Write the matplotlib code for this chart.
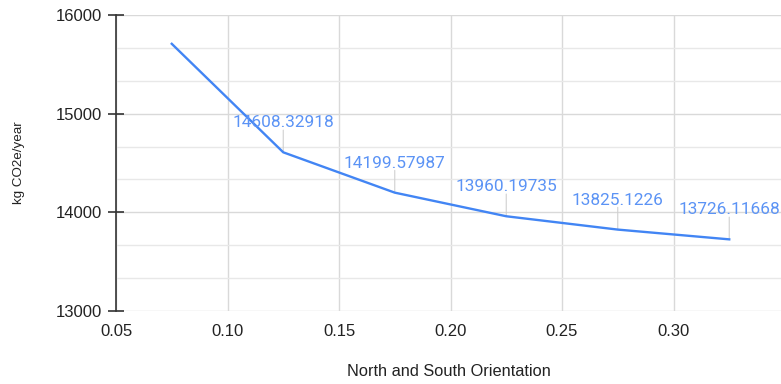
import matplotlib
matplotlib.use("Agg")
import matplotlib.pyplot as plt
from matplotlib.ticker import MultipleLocator, FixedLocator

# Data
orientation = [0.075, 0.125, 0.175, 0.225, 0.275, 0.325]
emissions = [15708.0, 14608.32918, 14199.57987, 13960.19735, 13825.1226, 13726.11668]
labels = ["", "14608.32918", "14199.57987", "13960.19735", "13825.1226", "13726.11668"]
x_ticks = [0.05, 0.10, 0.15, 0.20, 0.25, 0.30]
y_ticks = [13000, 14000, 15000, 16000]

LINE = "#4285F4"
LABEL = "#5b93f5"
GRID = "#d9d9d9"
MINOR = "#e8e8e8"

fig = plt.figure(figsize=(7.81, 3.84), dpi=100)
ax = fig.add_axes([116 / 781, (384 - 311) / 384, 665 / 781, 296 / 384])

ax.set_xlim(0.05, 0.05 + 665 / 111.5 * 0.05)
ax.set_ylim(13000, 16000)

ax.xaxis.set_major_locator(FixedLocator(x_ticks))
ax.yaxis.set_major_locator(FixedLocator(y_ticks))
ax.yaxis.set_minor_locator(MultipleLocator(1000 / 3))

ax.set_xticklabels([f"{v:.2f}" for v in x_ticks], family="Liberation Sans",
                   fontsize=12, color="#222222")
ax.set_yticklabels([str(v) for v in y_ticks], family="Liberation Sans",
                   fontsize=12, color="#222222")

ax.grid(True, which="major", color=GRID, linewidth=1.0, zorder=0)
ax.grid(True, which="minor", axis="y", color=MINOR, linewidth=1.0, zorder=0)
ax.set_axisbelow(True)

for side in ("top", "right", "bottom"):
    ax.spines[side].set_visible(False)
ax.spines["left"].set_color("#333333")
ax.spines["left"].set_linewidth(1.2)
ax.spines["left"].set_zorder(3)

ax.tick_params(axis="x", which="both", length=0, pad=9)
ax.tick_params(axis="y", which="major", direction="inout", length=12,
               width=1.2, color="#333333", pad=4)
ax.tick_params(axis="y", which="minor", length=0)

xl = ax.set_xlabel("North and South Orientation", family="Liberation Sans",
                   fontsize=11.8, color="#222222")
yl = ax.set_ylabel("kg CO2e/year", family="Liberation Sans", fontsize=9.6,
                   color="#222222")
ax.xaxis.set_label_coords(0.5, (311 - 372) / 296)
xl.set_va("center")
ax.yaxis.set_label_coords((19 - 116) / 665, 0.5)
yl.set_va("center")

# leader lines from each labelled point up to its label
for x, y, txt in zip(orientation, emissions, labels):
    if not txt:
        continue
    ax.annotate("", xy=(x, y), xytext=(0, 16), textcoords="offset points",
                arrowprops=dict(arrowstyle="-", color="#d0d0d0", lw=0.8,
                                shrinkA=0, shrinkB=0), zorder=2)
    ax.annotate(txt, xy=(x, y), xytext=(0, 18), textcoords="offset points",
                ha="center", va="baseline", family="Roboto", fontsize=12.4,
                color=LABEL, annotation_clip=False, zorder=5)

ax.plot(orientation, emissions, color=LINE, linewidth=1.7, zorder=4,
        solid_joinstyle="round", clip_on=False)

fig.savefig("out.png", dpi=100)
